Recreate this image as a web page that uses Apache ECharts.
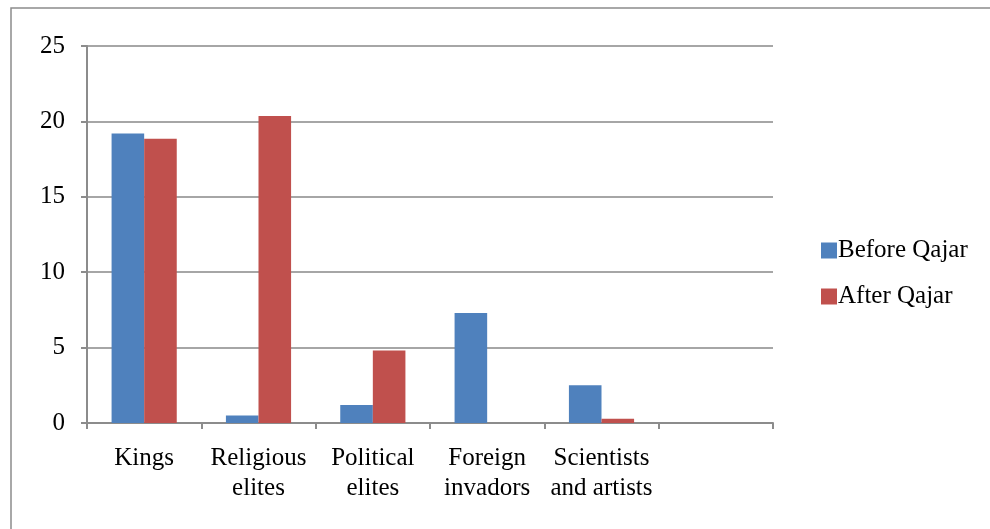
<!DOCTYPE html>
<html>
<head>
<meta charset="utf-8">
<script src="https://cdn.jsdelivr.net/npm/echarts@6/dist/echarts.min.js"></script>
<style>
html, body { margin: 0; padding: 0; background: #fff; }
#chart { width: 990px; height: 529px; }
</style>
</head>
<body>
<div id="chart"></div>
<script>
// Categories (last slot is left empty, as in the original workbook chart)
const categories = ['Kings', 'Religious\nelites', 'Political\nelites', 'Foreign\ninvadors', 'Scientists\nand artists', ''];
const beforeQajar = [19.2, 0.5, 1.2, 7.3, 2.5, null];
const afterQajar = [18.85, 20.35, 4.8, 0, 0.28, null];
const yTicks = [0, 5, 10, 15, 20, 25];

const FONT = '"Liberation Serif", "Times New Roman", serif';
const chart = echarts.init(document.getElementById('chart'), null, { renderer: 'canvas' });

chart.setOption({
  animation: false,
  backgroundColor: '#ffffff',
  graphic: [
    { type: 'polyline', shape: { points: [[11, 529], [11, 8], [990, 8]] },
      style: { stroke: '#8c8c8c', lineWidth: 1.5, fill: null }, silent: true }
  ],
  grid: { left: 87, right: 217, top: 46, bottom: 106 },
  legend: {
    orient: 'vertical',
    left: 816, top: 233,
    itemWidth: 16, itemHeight: 16, itemGap: 21,
    icon: 'rect',
    textStyle: { fontFamily: FONT, fontSize: 25, color: '#000', padding: [0, 0, 0, -4] },
    data: ['Before Qajar', 'After Qajar']
  },
  xAxis: {
    type: 'category',
    data: categories,
    boundaryGap: true,
    axisLine: { lineStyle: { color: '#8c8c8c', width: 2 } },
    axisTick: { show: true, inside: false, length: 6, alignWithLabel: false, lineStyle: { color: '#8c8c8c', width: 2 } },
    axisLabel: { interval: 0, margin: 20, fontFamily: FONT, fontSize: 25, color: '#000', lineHeight: 30 }
  },
  yAxis: {
    type: 'value',
    min: yTicks[0], max: yTicks[yTicks.length - 1], interval: 5,
    axisLine: { show: true, lineStyle: { color: '#8c8c8c', width: 2 } },
    axisTick: { show: true, length: 6, lineStyle: { color: '#8c8c8c', width: 2 } },
    axisLabel: { margin: 22, fontFamily: FONT, fontSize: 25, color: '#000' },
    splitLine: { lineStyle: { color: '#a6a6a6', width: 2 } }
  },
  series: [
    { name: 'Before Qajar', type: 'bar', data: beforeQajar, barGap: '0%', barCategoryGap: '43%',
      itemStyle: { color: '#4F81BD' } },
    { name: 'After Qajar', type: 'bar', data: afterQajar, barGap: '0%', barCategoryGap: '43%',
      itemStyle: { color: '#C0504D' } }
  ]
});
</script>
</body>
</html>
